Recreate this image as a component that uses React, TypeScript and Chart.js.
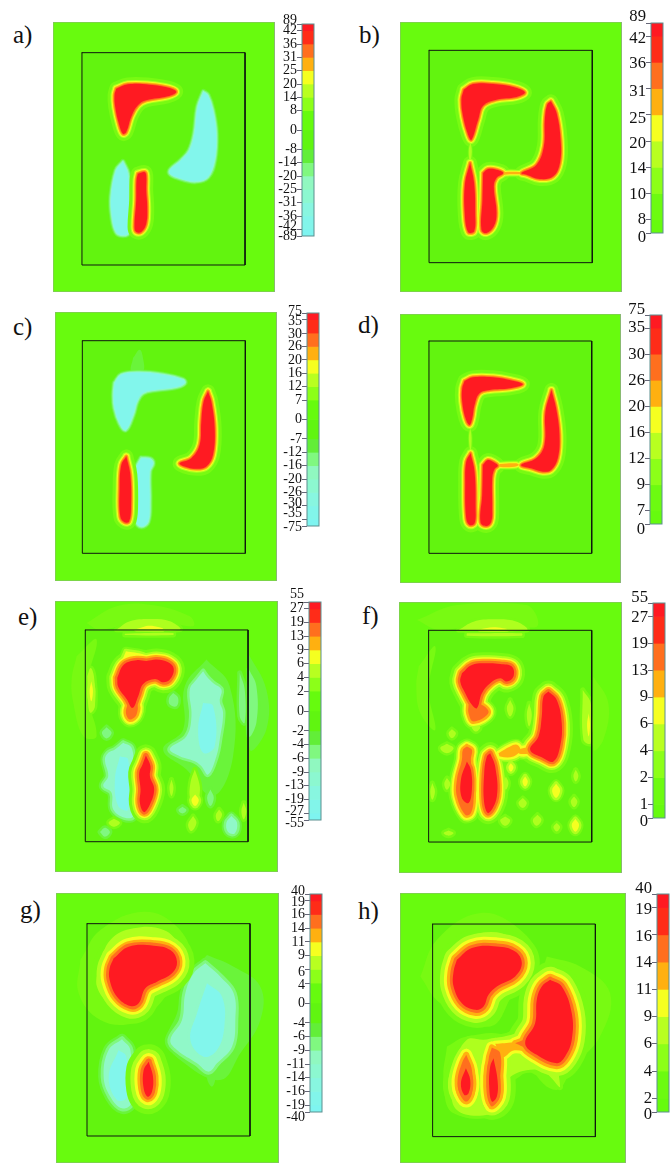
import React, { useEffect, useRef } from "react";
import { Chart, registerables } from "chart.js";
Chart.register(...registerables);

type Shape = [number, number[]];

// colour-bar level labels, top to bottom
const levelsA = ["89","42","36","31","25","20","14","8","0","-8","-14","-20","-25","-31","-36","-42","-89"];
const levelsB = ["89","42","36","31","25","20","14","10","8","0"];
const levelsC = ["75","35","30","26","20","16","12","7","0","-7","-12","-16","-20","-26","-30","-35","-75"];
const levelsD = ["75","35","30","26","20","16","12","9","7","0"];
const levelsE = ["55","27","19","13","9","6","4","2","0","-2","-4","-6","-9","-13","-19","-27","-55"];
const levelsF = ["55","27","19","13","9","6","4","2","1","0"];
const levelsG = ["40","19","16","14","11","9","6","4","0","-4","-6","-9","-11","-14","-16","-19","-40"];
const levelsH = ["40","19","16","14","11","9","6","4","2","0"];

const seqColors = ["#ff1a22","#ff2c18","#ff6f1e","#ffb010","#f5ff20","#b8ff20","#8cff18","#6cfb10","#66fb0e"];
const divColors = ["#ff1a22","#ff2c18","#ff6f1e","#ffb010","#f5ff20","#b8ff20","#8cff18","#66fb0e","#60f510","#62ee38","#80f880","#90f8c0","#8cf8d0","#88f6e0","#82f5ea","#7ef4f0"];

const hotRamp = ["#78fa12","#aeff1e","#f5ff20","#ffb010","#ff6f1e","#ff1a22"];
const coldRamp = ["#6af43a","#80f880","#90f8c8","#82f6ec"];

// contour outlines by level (5 red … 0 faint, -1 … -4 cyan)
const shapesA: Shape[] = [
  [5,[350,265,385,252,450,253,510,263,530,275,505,288,440,300,415,315,395,350,380,395,370,400,358,370,347,320,345,285]],
  [5,[415,520,435,515,440,525,440,570,443,620,440,670,425,695,410,695,405,680,410,600,411,540]],
  [-4,[612,275,625,285,640,330,650,400,645,480,625,530,590,543,545,535,510,515,545,480,570,450,585,400,595,320]],
  [-4,[370,485,385,520,388,600,388,695,370,705,350,695,338,650,335,590,350,510]],
];
const shapesB: Shape[] = [
  [5,[372,270,400,253,460,253,520,262,555,278,530,292,470,300,430,318,415,360,395,420,385,405,370,350,365,300]],
  [5,[391,490,403,550,406,640,403,695,385,697,375,640,376,550]],
  [5,[430,520,445,508,470,510,490,520,470,535,462,560,470,640,462,680,440,700,425,690,428,600]],
  [5,[633,305,650,340,662,420,660,490,640,530,600,538,560,525,545,520,590,495,612,440,615,360,622,315]],
  [3,[485,518,510,516,545,518,545,522,510,524,485,524]],
  [1,[392,425,396,455,391,490,387,455]],
];
const shapesC: Shape[] = [
  [-4,[345,265,365,240,420,233,490,240,550,255,555,265,530,277,470,285,430,295,412,320,400,360,378,405,360,385,345,340,342,300]],
  [-1,[400,190,420,165,430,190,430,230,395,230]],
  [5,[625,290,635,320,645,400,640,480,620,515,590,522,555,515,540,505,575,490,600,450,605,380,612,320]],
  [5,[380,485,392,540,394,640,388,680,375,682,362,665,360,580,365,510]],
  [-4,[425,490,450,492,460,505,450,530,450,620,445,680,425,695,410,680,405,600,410,520]],
];
const shapesD: Shape[] = [
  [5,[375,258,400,247,460,247,510,255,550,268,510,280,450,285,420,295,405,330,398,370,390,390,378,370,368,320,368,280]],
  [5,[393,475,405,530,408,640,405,685,390,690,380,670,377,560,380,500]],
  [5,[430,510,445,495,465,503,475,512,465,522,458,550,458,640,455,680,440,693,423,682,428,600]],
  [5,[636,285,650,340,660,420,655,490,635,525,610,530,575,520,545,510,590,490,615,450,618,350]],
  [3,[480,507,530,505,538,510,525,515,480,515]],
  [1,[392,395,396,430,393,470,388,430]],
];
const shapesE: Shape[] = [
  [0,[230,200,290,150,260,300,290,440,250,440,220,340,215,270]],
  [0,[260,100,350,50,450,45,570,80,580,110,450,90,300,120]],
  [1,[350,120,390,95,450,88,510,95,540,120]],
  [2,[410,118,450,108,490,118]],
  [1,[375,132,520,130,520,136,375,136]],
  [1,[262,260,272,235,282,260,285,350,272,370,265,350]],
  [2,[274,275,279,305,274,335,269,305]],
  [-1,[745,190,800,300,800,420,750,480]],
  [-2,[748,240,770,290,770,400,748,440]],
  [-2,[720,250,735,300,735,400,720,380]],
  [-1,[620,210,690,290,700,500,640,620,560,540,490,480,550,420,555,290]],
  [-3,[610,245,622,262,640,280,665,300,660,335,670,370,660,450,650,500,625,555,605,530,585,515,540,500,510,478,560,440,575,380,570,300,590,270]],
  [-4,[610,340,640,350,645,470,610,490,595,420]],
  [-3,[370,460,395,475,400,530,396,600,400,680,375,685,340,660,335,610,310,590,325,560,315,510,325,490,345,480]],
  [-4,[360,500,385,510,385,660,355,650,345,570]],
  [-2,[320,413,335,430,320,447,306,430]],
  [-2,[520,310,535,325,530,350,510,345,508,325]],
  [-3,[695,680,712,700,705,732,685,728,680,700]],
  [-2,[300,728,315,715,330,728,315,742]],
  [-2,[632,600,642,625,632,650,622,625]],
  [-2,[548,652,560,662,548,672,536,662]],
  [1,[585,540,598,580,600,610,590,650,572,630,572,580]],
  [2,[586,615,597,632,586,650,575,632]],
  [1,[580,680,590,700,575,725,565,705]],
  [1,[515,570,521,595,515,620,509,595]],
  [1,[658,660,667,675,655,695,648,678]],
  [1,[732,640,740,665,732,690,725,665]],
  [1,[342,688,360,700,342,712,326,700]],
  [2,[378,185,430,195,430,205,370,215]],
  [5,[352,265,372,225,410,212,440,214,470,210,505,218,522,238,510,270,490,278,465,268,430,283,415,320,398,355,380,328,355,292]],
  [4,[385,340,410,340,410,375,390,390,378,370]],
  [5,[438,498,452,530,450,560,463,600,448,650,432,668,420,640,422,600,418,550,428,525]],
];
const shapesF: Shape[] = [
  [0,[235,230,285,170,265,300,285,420,240,370,228,290]],
  [0,[760,260,805,340,790,450,760,480]],
  [0,[230,90,350,45,560,45,590,110,460,92,300,120]],
  [1,[355,120,400,95,460,88,530,95,560,120]],
  [2,[420,118,460,112,500,118]],
  [1,[380,130,545,130,545,137,380,137]],
  [1,[728,300,752,340,752,460,730,450]],
  [2,[746,370,750,405,746,440,741,405]],
  [2,[512,520,520,532,512,545,505,532]],
  [2,[555,560,563,575,555,590,547,575]],
  [2,[648,582,660,602,648,624,636,602]],
  [2,[706,688,717,706,706,726,695,706]],
  [1,[702,620,712,635,702,652,692,635]],
  [1,[592,675,604,690,590,708,578,692]],
  [1,[325,722,340,730,325,738,310,730]],
  [1,[335,418,347,430,335,445,325,430]],
  [1,[276,580,284,605,276,630,270,605]],
  [1,[548,625,560,640,548,655,535,640]],
  [1,[650,700,660,712,650,725,640,712]],
  [1,[320,565,330,582,320,600,312,582]],
  [1,[497,560,505,580,497,600,490,580]],
  [1,[407,400,420,412,407,425,395,412]],
  [1,[707,540,715,558,707,575,700,558]],
  [1,[495,680,510,692,495,708,480,692]],
  [1,[320,462,340,475,320,490,300,475]],
  [1,[510,330,520,355,510,380,500,355]],
  [1,[567,340,575,375,567,410,560,375]],
  [5,[365,250,395,225,440,220,480,222,515,230,520,260,500,275,480,265,450,280,425,310,410,355,395,345,375,310,360,275]],
  [4,[385,345,415,340,445,368,400,395,385,370]],
  [5,[625,305,650,330,665,400,660,470,640,515,610,505,570,480,595,440,605,380,610,320]],
  [4,[380,470,395,480,392,510,400,620,392,670,375,675,350,620,350,570,365,510,368,480]],
  [5,[380,515,392,540,395,600,385,640,365,625,362,570]],
  [5,[450,490,465,530,470,620,445,670,432,640,432,550,440,500]],
  [3,[475,490,510,470,530,465,540,480,520,500,480,500]],
  [3,[535,478,565,474,565,490,535,490]],
];
const shapesG: Shape[] = [
  [0,[240,240,300,150,430,95,530,140,570,230,520,310,470,380,400,430,300,420,235,340]],
  [1,[295,260,330,180,400,145,490,150,540,200,550,250,480,300,400,380,330,370,290,320]],
  [-1,[620,225,700,260,780,320,780,420,720,520,660,600,540,540,500,480,530,400,555,300]],
  [-1,[630,575,645,590,635,620,620,595]],
  [-3,[615,250,660,290,700,340,705,420,695,500,650,550,625,575,590,550,530,510,510,480,545,420,555,340,580,280]],
  [-4,[620,310,665,350,672,440,650,510,610,530,570,480,590,400]],
  [-3,[365,478,390,510,392,670,365,685,330,650,310,590,325,510]],
  [-4,[355,510,378,530,380,650,350,660,325,590]],
  [5,[340,235,385,200,460,197,510,210,530,245,515,280,470,305,435,325,415,370,390,378,350,350,328,300,328,265]],
  [5,[445,545,458,590,455,635,442,650,430,625,430,570]],
];
const shapesH: Shape[] = [
  [0,[240,290,290,180,420,100,540,150,590,240,520,340,450,440,300,370]],
  [0,[620,230,720,260,810,340,780,470,700,560,650,630,580,570,560,440]],
  [0,[320,500,380,470,500,470,560,560,480,640,500,700,340,700,310,600]],
  [1,[305,300,340,210,420,160,520,175,560,240,530,300,400,420,340,380]],
  [1,[335,560,380,480,430,480,600,470,660,620,600,570,500,600,480,690,350,690]],
  [5,[350,240,395,205,470,200,525,215,545,250,525,290,470,320,445,345,430,380,405,390,365,370,340,320,340,275]],
  [5,[630,300,665,320,695,400,695,480,675,530,650,550,590,525,555,490,585,430,590,360,605,320]],
  [3,[465,492,520,487,550,480,575,515,520,512,490,532,478,522]],
  [4,[525,490,555,482,565,505]],
  [4,[378,525,395,570,395,640,378,665,358,640,352,600,365,550]],
  [5,[377,565,390,600,385,640,372,645,362,610]],
  [4,[455,503,480,520,480,600,478,650,455,680,445,650,445,540]],
  [5,[460,535,472,600,470,650,455,665,447,620,450,560]],
];

// Panel layout (reference-crop units; crop is shown 3× so units are third-pixels)
const panels = [
  { tag:"a)", lx:13, ly:35, cx:0, cy:0, outer:[160,65,827,875], inner:[247,157,737,794], bar:[907,72,942,708], levels:levelsA, shapes:shapesA, bands:[2,2,2,2,6], font:14, shift:{0:-10,15:-10} as Record<number,number> },
  { tag:"b)", lx:359, ly:35, cx:340, cy:0, outer:[181,67,846,877], inner:[268,152,757,789], bar:[933,68,968,697], levels:levelsB, shapes:shapesB, bands:[2,2,2,2,6], font:16.7, shift:{0:-20,1:8,2:5,3:10,4:10,5:8,6:5,7:4,9:13} as Record<number,number> },
  { tag:"c)", lx:13, ly:327, cx:0, cy:295, outer:[166,52,832,858], inner:[248,138,737,775], bar:[920,54,955,692], levels:levelsC, shapes:shapesC, bands:[2,2,2,2,6], font:14, shift:{0:-4,1:4,2:4,14:-7,15:-17,16:3} as Record<number,number> },
  { tag:"d)", lx:358, ly:325, cx:340, cy:295, outer:[181,57,845,864], inner:[268,138,757,775], bar:[930,61,965,689], levels:levelsD, shapes:shapesD, bands:[2,2,2,2,6], font:16.7, shift:{0:-16,9:16} as Record<number,number> },
  { tag:"e)", lx:18, ly:617, cx:0, cy:590, outer:[165,34,835,848], inner:[256,121,745,757], bar:[927,37,962,692], levels:levelsE, shapes:shapesE, bands:[5,4,3,4,6], font:14, shift:{0:-22,1:-2,15:-6,16:11} as Record<number,number> },
  { tag:"f)", lx:362, ly:616, cx:340, cy:590, outer:[176,36,846,850], inner:[265,121,755,757], bar:[939,39,974,685], levels:levelsF, shapes:shapesF, bands:[5,4,3,4,6], font:16.7, shift:{0:-17,1:5,9:12} as Record<number,number> },
  { tag:"g)", lx:20, ly:910, cx:0, cy:880, outer:[167,39,836,849], inner:[260,131,749,768], bar:[930,42,965,697], levels:levelsG, shapes:shapesG, bands:[6,5,6,8,10], font:14, shift:{0:-9,1:3,6:8,7:7,16:16} as Record<number,number> },
  { tag:"h)", lx:358, ly:911, cx:340, cy:880, outer:[179,40,858,849], inner:[277,133,766,770], bar:[952,43,988,697], levels:levelsH, shapes:shapesH, bands:[6,6,6,8,10], font:16.7, shift:{0:-15,1:6,2:5,9:8} as Record<number,number> },
];
type Panel = typeof panels[number];

const SERIF = '"Liberation Serif", "Times New Roman", serif';
const toPts = (f: number[]) => {
  const p: { x: number; y: number }[] = [];
  for (let i = 0; i < f.length; i += 2) p.push({ x: f[i], y: f[i + 1] });
  p.push(p[0]);
  return p;
};
const rect = (b: number[]) => toPts([b[0], b[1], b[2], b[1], b[2], b[3], b[0], b[3]]);

function heatDatasets(p: Panel) {
  const base = { pointRadius: 0, showLine: true, borderJoinStyle: "round", borderCapStyle: "round" };
  const ds: any[] = [];
  ds.push({ ...base, data: rect(p.outer), fill: "shape", backgroundColor: "#68fb0e", borderColor: "#8fb080", borderWidth: 1 });
  ds.push({ ...base, data: rect(p.inner), fill: "shape", backgroundColor: "#62f40f", borderWidth: 0 });
  const width = (d: number) => p.bands.slice(0, d).reduce((a, b) => a + b, 0);
  for (let L = 1; L <= 4; L++) {
    for (const [lv, f] of p.shapes) {
      if (lv >= 0 || -lv < L) continue;
      const d = -lv - L;
      ds.push({ ...base, data: toPts(f), tension: 0.4, fill: d === 0 ? "shape" : false,
        backgroundColor: coldRamp[L - 1], borderColor: coldRamp[L - 1], borderWidth: d === 0 ? 0 : width(d) });
    }
  }
  for (let L = 0; L <= 5; L++) {
    for (const [lv, f] of p.shapes) {
      if (lv < L) continue;
      const d = lv - L;
      ds.push({ ...base, data: toPts(f), tension: 0.4, fill: d === 0 ? "shape" : false,
        backgroundColor: hotRamp[L], borderColor: hotRamp[L], borderWidth: d === 0 ? 0 : width(d) });
    }
  }
  ds.push({ ...base, data: rect(p.inner), fill: false, borderColor: "#101810", borderWidth: 1 });
  return ds.reverse();
}

function Heat({ p }: { p: Panel }) {
  const ref = useRef<HTMLCanvasElement>(null);
  useEffect(() => {
    const c = new Chart(ref.current!, {
      type: "scatter",
      data: { datasets: heatDatasets(p) },
      options: {
        animation: false, responsive: false, maintainAspectRatio: false,
        layout: { padding: 1 },
        plugins: { legend: { display: false }, tooltip: { enabled: false } },
        scales: {
          x: { type: "linear", display: false, min: p.outer[0], max: p.outer[2] },
          y: { type: "linear", display: false, reverse: true, min: p.outer[1], max: p.outer[3] },
        },
      },
    } as any);
    return () => c.destroy();
  }, [p]);
  const w = Math.round((p.outer[2] - p.outer[0]) / 3) + 2;
  const h = Math.round((p.outer[3] - p.outer[1]) / 3) + 2;
  return <canvas ref={ref} width={w} height={h} style={{ position: "absolute", display: "block", filter: "blur(0.6px)",
    left: Math.round(p.cx + p.outer[0] / 3) - 1, top: Math.round(p.cy + p.outer[1] / 3) - 1 }} />;
}

const LABEL_W = 42, TICK_W = 5, PAD = 26;

function ColorBar({ p }: { p: Panel }) {
  const ref = useRef<HTMLCanvasElement>(null);
  useEffect(() => {
    const n = p.levels.length - 1;
    const diverging = n === 16;
    const heights = Array.from({ length: n }, (_, i) =>
      i === 0 || i === n - 1 ? 0.5 : diverging && (i === 7 || i === 8) ? 1.45 : 1);
    const edges = [0];
    heights.forEach((h) => edges.push(edges[edges.length - 1] + h));
    const total = edges[n];
    const unit = (p.bar[3] - p.bar[1]) / total;
    const labelPos = edges.map((e, i) => e + (p.shift[i] || 0) / unit);
    const colors = diverging ? divColors : seqColors;
    const c = new Chart(ref.current!, {
      type: "bar",
      data: {
        labels: [""],
        datasets: heights.map((h, i) => ({ data: [h], backgroundColor: colors[i], borderWidth: 0,
          barPercentage: 1, categoryPercentage: 1, yAxisID: "y" })),
      },
      options: {
        animation: false, responsive: false, maintainAspectRatio: false,
        layout: { padding: { top: PAD, bottom: PAD, left: 0, right: 1 } },
        plugins: { legend: { display: false }, tooltip: { enabled: false } },
        scales: {
          x: { display: false, stacked: true },
          y: {
            type: "linear", position: "left", weight: 1, stacked: true, reverse: true, min: 0, max: total,
            grid: { display: false, drawTicks: false }, border: { display: false },
            afterBuildTicks: (s: any) => { s.ticks = labelPos.map((v) => ({ value: v })); },
            afterFit: (s: any) => { s.width = LABEL_W; },
            ticks: {
              autoSkip: false, padding: 0, color: "#111", maxRotation: 0,
              font: { family: SERIF, size: p.font },
              callback: (_: any, i: number) => p.levels[i],
            },
          },
          y2: {
            type: "linear", position: "left", weight: 0, reverse: true, min: 0, max: total,
            grid: { drawOnChartArea: false, drawTicks: true, tickLength: TICK_W, tickColor: "#667", tickWidth: 1 },
            border: { display: false },
            afterBuildTicks: (s: any) => { s.ticks = edges.map((v) => ({ value: v })); },
            afterFit: (s: any) => { s.width = TICK_W; },
            ticks: { display: false },
          },
        },
      },
      plugins: [{
        id: "barFrame",
        afterDatasetsDraw(ch: any) {
          const a = ch.chartArea, g = ch.ctx;
          g.save(); g.strokeStyle = "#5c8f8f"; g.lineWidth = 1;
          g.strokeRect(a.left, a.top, a.right - a.left, a.bottom - a.top);
          g.restore();
        },
      }],
    } as any);
    return () => c.destroy();
  }, [p]);
  const barW = Math.round((p.bar[2] - p.bar[0]) / 3);
  const barH = Math.round((p.bar[3] - p.bar[1]) / 3);
  return <canvas ref={ref} width={LABEL_W + TICK_W + barW + 1} height={barH + PAD * 2}
    style={{ position: "absolute", display: "block",
      left: Math.round(p.cx + p.bar[0] / 3) - LABEL_W - TICK_W,
      top: Math.round(p.cy + p.bar[1] / 3) - PAD }} />;
}

export default function App() {
  return (
    <div style={{ position: "absolute", left: 0, top: 0, width: 671, height: 1163, overflow: "hidden", background: "#fff" }}>
      {panels.map((p) => (
        <React.Fragment key={p.tag}>
          <Heat p={p} />
          <ColorBar p={p} />
          <div style={{ position: "absolute", left: p.lx, top: p.ly - 15, lineHeight: "30px", fontFamily: SERIF, fontSize: 25, color: "#111" }}>{p.tag}</div>
        </React.Fragment>
      ))}
    </div>
  );
}
